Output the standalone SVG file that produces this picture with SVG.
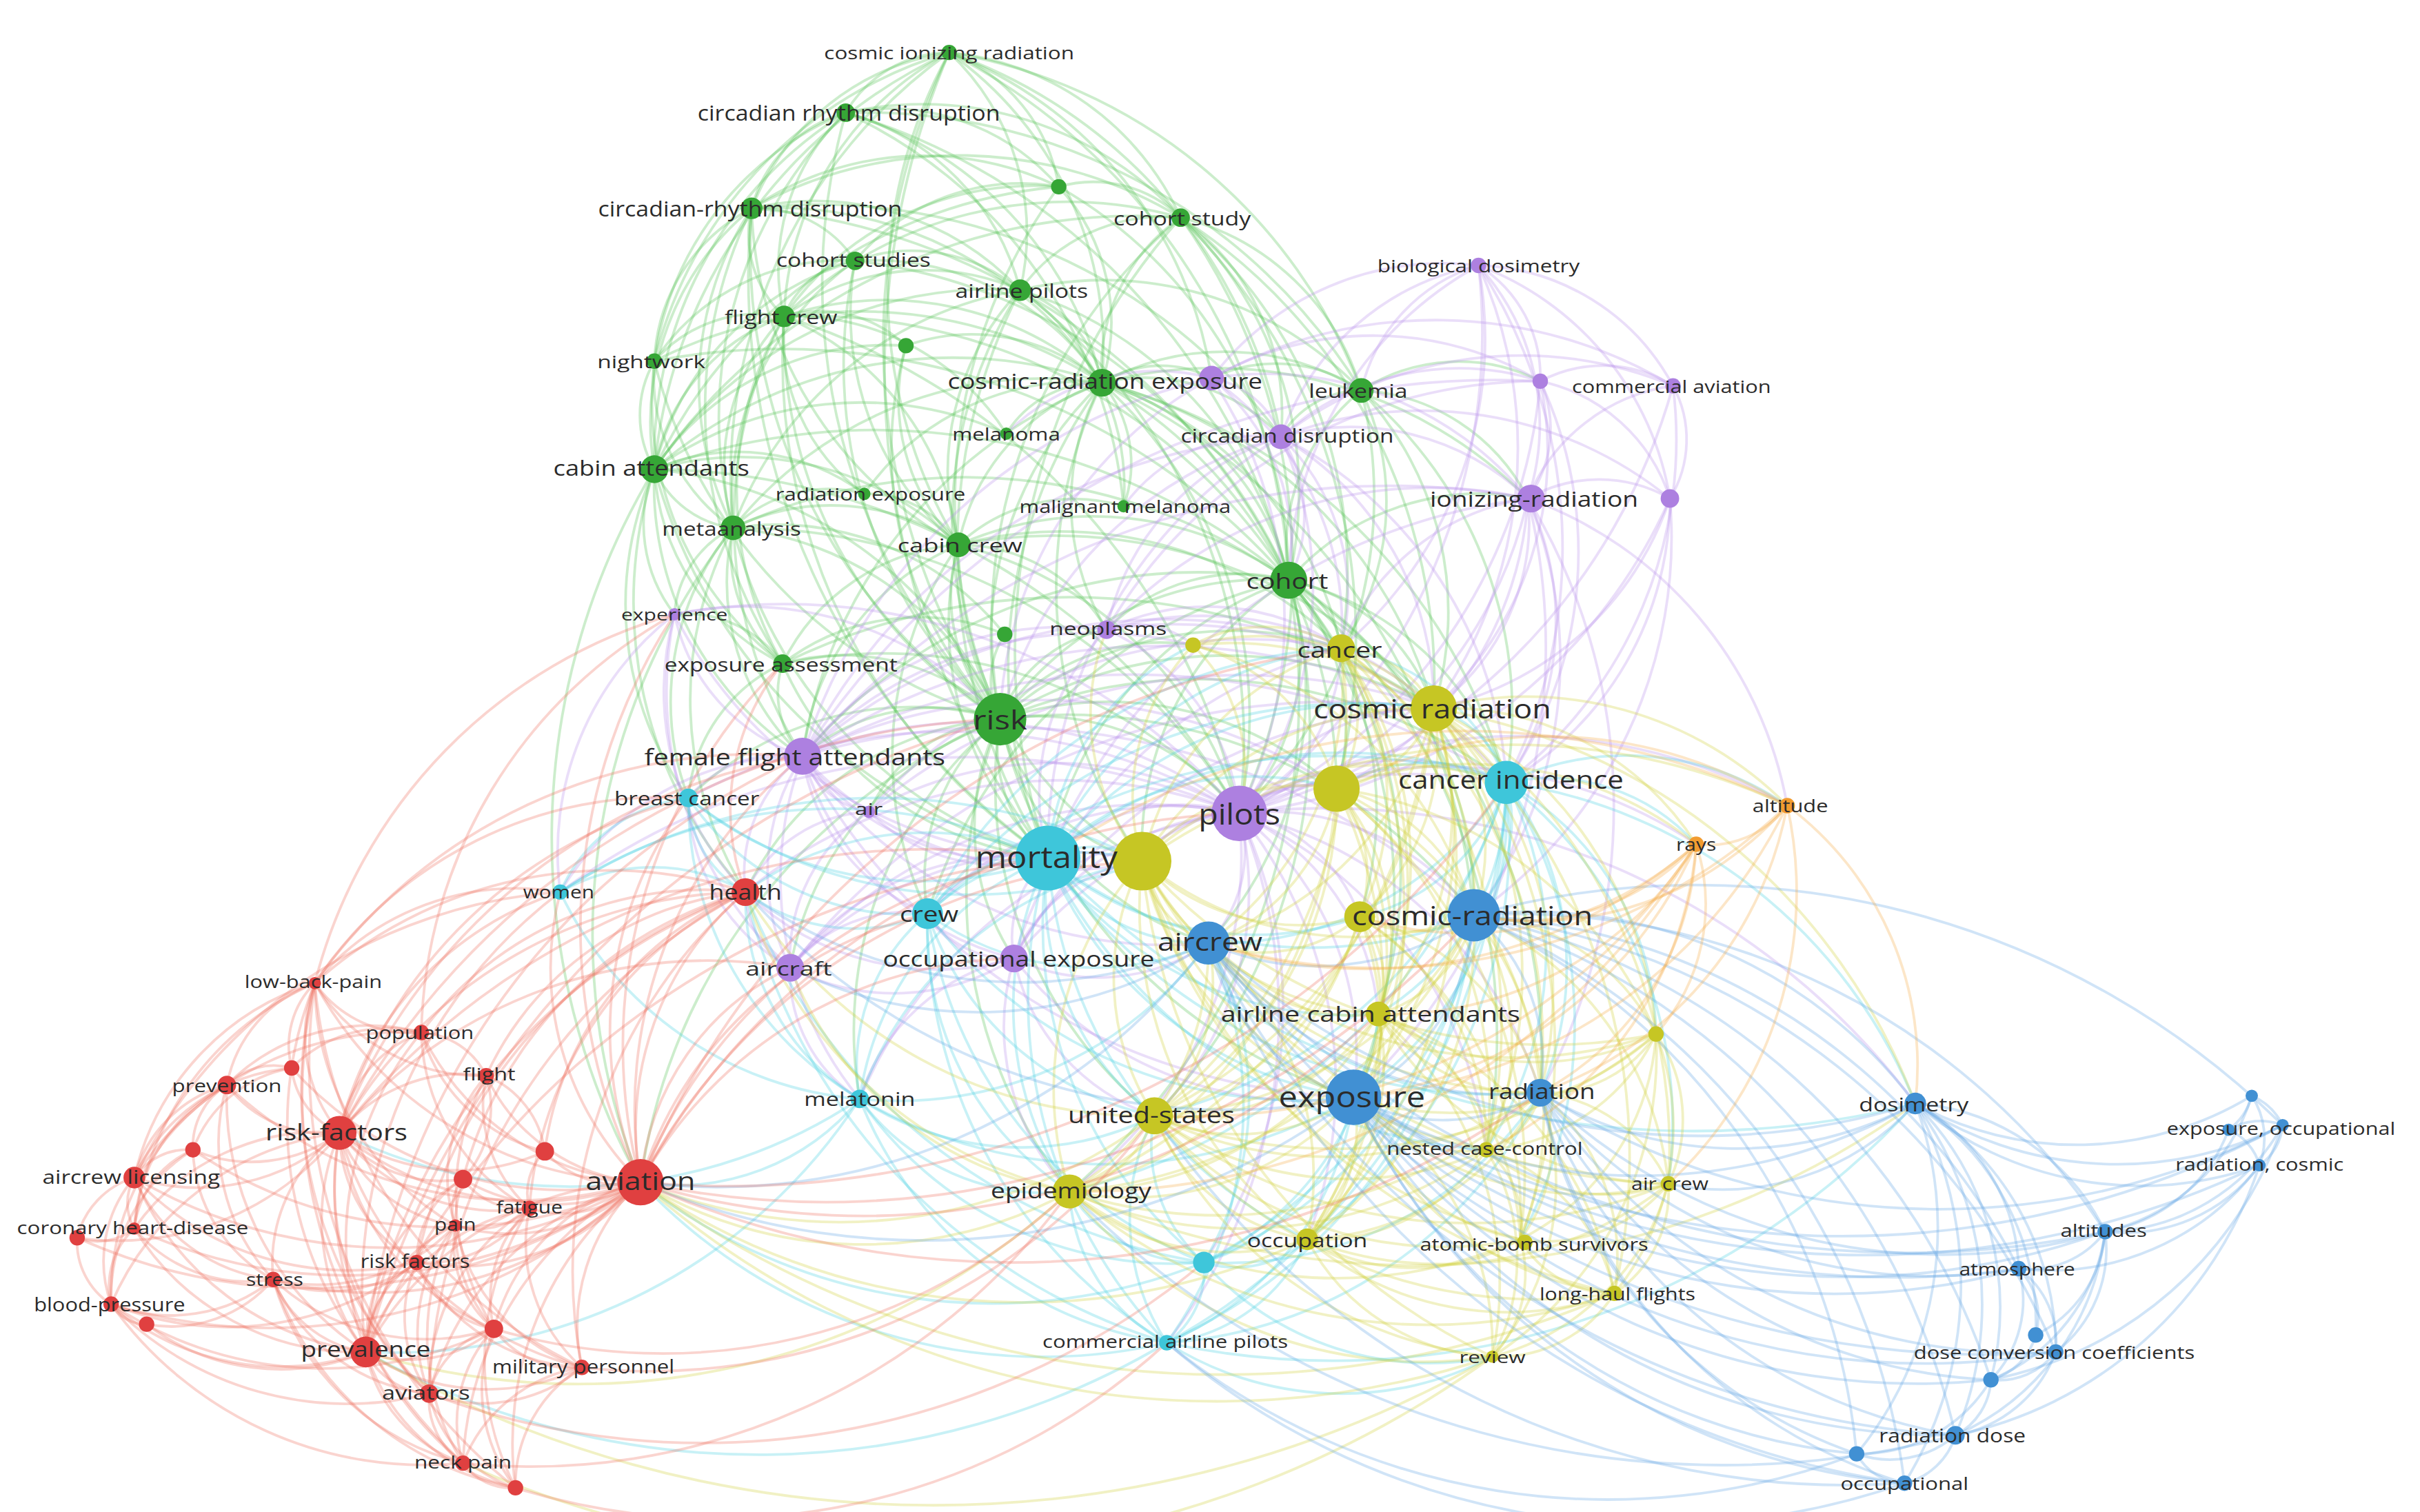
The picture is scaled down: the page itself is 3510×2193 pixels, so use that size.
<svg xmlns="http://www.w3.org/2000/svg" width="3510" height="2193" viewBox="0 0 3510 2193">
<style>
#edges path{fill:none;stroke-width:1.7;stroke-opacity:.3}
.eg path{stroke:#55c455}
.ep path{stroke:#b891ea}
.ey path{stroke:#d2d23a}
.ec path{stroke:#48d0e2}
.eb path{stroke:#62a6e4}
.er path{stroke:#f07060}
.eo path{stroke:#f6ab48}
.ng{fill:#36a636}.np{fill:#ad80e0}.ny{fill:#c6c624}.nc{fill:#3ec6da}.nb{fill:#4190d3}.nr{fill:#e04040}.no{fill:#f29c30}
text{font-family:'Open Sans','Noto Sans','Liberation Sans',sans-serif;fill:#2b2b2b;text-anchor:middle;dominant-baseline:central}
</style>
<rect width="3510" height="2193" fill="#ffffff"/>
<g transform="scale(2.2385)">
<g id="edges">
<g class="eg">
<path d="M615 34A184 184 0 0 1 765 141"/><path d="M615 34A236 236 0 0 1 714 248"/><path d="M615 34A407 407 0 0 1 835 376"/><path d="M615 34A345 345 0 0 1 882 253"/><path d="M487 135A163 163 0 0 1 615 34"/><path d="M548 73A78 78 0 0 1 615 34"/><path d="M508 205A202 202 0 0 1 615 34"/><path d="M424 234A277 277 0 0 1 615 34"/><path d="M424 304A331 331 0 0 1 615 34"/><path d="M648 466A433 433 0 0 1 615 34"/><path d="M615 34A112 112 0 0 1 686 121"/><path d="M615 34A161 161 0 0 1 661 188"/><path d="M475 342A338 338 0 0 1 615 34"/><path d="M621 353A319 319 0 0 1 615 34"/><path d="M615 34A329 329 0 0 1 830 283"/><path d="M615 34A271 271 0 0 1 785 245"/><path d="M679 556A526 526 0 0 1 615 34"/>
<path d="M548 73A227 227 0 0 1 765 141"/><path d="M548 73A241 241 0 0 1 714 248"/><path d="M548 73A417 417 0 0 1 835 376"/><path d="M487 135A87 87 0 0 1 548 73"/><path d="M508 205A138 138 0 0 1 548 73"/><path d="M424 304A262 262 0 0 1 548 73"/><path d="M648 466A405 405 0 0 1 548 73"/><path d="M548 73A161 161 0 0 1 661 188"/><path d="M548 73A146 146 0 0 1 686 121"/><path d="M424 234A203 203 0 0 1 548 73"/><path d="M475 342A279 279 0 0 1 548 73"/><path d="M548 73A379 379 0 0 1 882 253"/><path d="M548 73A312 312 0 0 1 728 328"/>
<path d="M487 135A278 278 0 0 1 765 141"/><path d="M487 135A182 182 0 0 1 661 188"/><path d="M487 135A254 254 0 0 1 714 248"/><path d="M487 135A423 423 0 0 1 835 376"/><path d="M508 205A73 73 0 0 1 487 135"/><path d="M424 304A180 180 0 0 1 487 135"/><path d="M424 234A117 117 0 0 1 487 135"/><path d="M475 342A207 207 0 0 1 487 135"/><path d="M648 466A368 368 0 0 1 487 135"/><path d="M507 430A296 296 0 0 1 487 135"/><path d="M487 135A75 75 0 0 1 554 169"/><path d="M487 135A200 200 0 0 1 686 121"/><path d="M487 135A374 374 0 0 1 830 283"/><path d="M621 353A256 256 0 0 1 487 135"/><path d="M679 556A463 463 0 0 1 487 135"/>
<path d="M686 121A81 81 0 0 1 765 141"/><path d="M686 121A295 295 0 0 1 835 376"/><path d="M554 169A140 140 0 0 1 686 121"/><path d="M508 205A197 197 0 0 1 686 121"/><path d="M686 121A130 130 0 0 1 714 248"/><path d="M648 466A347 347 0 0 1 686 121"/><path d="M424 304A320 320 0 0 1 686 121"/>
<path d="M765 141A245 245 0 0 1 835 376"/><path d="M765 141A162 162 0 0 1 882 253"/><path d="M765 141A156 156 0 0 1 830 283"/><path d="M661 188A114 114 0 0 1 765 141"/><path d="M714 248A119 119 0 0 1 765 141"/><path d="M648 466A345 345 0 0 1 765 141"/><path d="M508 205A265 265 0 0 1 765 141"/><path d="M424 304A378 378 0 0 1 765 141"/><path d="M765 141A298 298 0 0 1 869 420"/><path d="M765 141A358 358 0 0 1 929 459"/><path d="M765 141A388 388 0 0 1 803 527"/><path d="M679 556A424 424 0 0 1 765 141"/><path d="M765 141A384 384 0 0 1 866 511"/>
<path d="M661 188A80 80 0 0 1 714 248"/><path d="M661 188A256 256 0 0 1 835 376"/><path d="M508 205A154 154 0 0 1 661 188"/><path d="M554 169A109 109 0 0 1 661 188"/><path d="M424 304A264 264 0 0 1 661 188"/><path d="M648 466A278 278 0 0 1 661 188"/><path d="M661 188A367 367 0 0 1 803 527"/><path d="M661 188A230 230 0 0 1 882 253"/><path d="M475 342A241 241 0 0 1 661 188"/><path d="M621 353A170 170 0 0 1 661 188"/><path d="M679 556A368 368 0 0 1 661 188"/><path d="M661 188A155 155 0 0 1 728 328"/>
<path d="M554 169A178 178 0 0 1 714 248"/><path d="M554 169A349 349 0 0 1 835 376"/><path d="M508 205A58 58 0 0 1 554 169"/><path d="M424 304A187 187 0 0 1 554 169"/><path d="M648 466A311 311 0 0 1 554 169"/><path d="M424 234A145 145 0 0 1 554 169"/><path d="M475 342A190 190 0 0 1 554 169"/><path d="M621 353A196 196 0 0 1 554 169"/>
<path d="M508 205A210 210 0 0 1 714 248"/><path d="M508 205A369 369 0 0 1 835 376"/><path d="M424 234A89 89 0 0 1 508 205"/><path d="M424 304A130 130 0 0 1 508 205"/><path d="M475 342A141 141 0 0 1 508 205"/><path d="M648 466A296 296 0 0 1 508 205"/><path d="M508 205A186 186 0 0 1 621 353"/><path d="M507 430A225 225 0 0 1 508 205"/><path d="M679 556A390 390 0 0 1 508 205"/><path d="M508 205A81 81 0 0 1 587 224"/><path d="M508 205A163 163 0 0 1 652 281"/><path d="M560 320A126 126 0 0 1 508 205"/><path d="M520 490A285 285 0 0 1 508 205"/><path d="M508 205A437 437 0 0 1 803 527"/>
<path d="M587 224A129 129 0 0 1 714 248"/><path d="M621 353A133 133 0 0 1 587 224"/><path d="M648 466A250 250 0 0 1 587 224"/><path d="M424 304A182 182 0 0 1 587 224"/>
<path d="M424 234A290 290 0 0 1 714 248"/><path d="M424 304A70 70 0 0 1 424 234"/><path d="M475 342A119 119 0 0 1 424 234"/><path d="M648 466A322 322 0 0 1 424 234"/><path d="M424 234A435 435 0 0 1 835 376"/><path d="M507 430A213 213 0 0 1 424 234"/>
<path d="M714 248A176 176 0 0 1 835 376"/><path d="M714 248A168 168 0 0 1 882 253"/><path d="M714 248A121 121 0 0 1 830 283"/><path d="M714 248A71 71 0 0 1 785 245"/><path d="M714 248A231 231 0 0 1 869 420"/><path d="M714 248A301 301 0 0 1 929 459"/><path d="M714 248A293 293 0 0 1 803 527"/><path d="M714 248A304 304 0 0 1 866 511"/><path d="M648 466A228 228 0 0 1 714 248"/><path d="M679 556A310 310 0 0 1 714 248"/><path d="M424 304A295 295 0 0 1 714 248"/><path d="M475 342A257 257 0 0 1 714 248"/><path d="M621 353A140 140 0 0 1 714 248"/><path d="M714 248A368 368 0 0 1 976 507"/><path d="M714 248A286 286 0 0 1 990 323"/><path d="M740 558A311 311 0 0 1 714 248"/><path d="M652 281A70 70 0 0 1 714 248"/><path d="M560 320A170 170 0 0 1 714 248"/><path d="M714 248A81 81 0 0 1 728 328"/><path d="M717 408A160 160 0 0 1 714 248"/><path d="M520 490A310 310 0 0 1 714 248"/><path d="M714 248A421 421 0 0 1 955 593"/>
<path d="M424 304A417 417 0 0 1 835 376"/><path d="M475 342A64 64 0 0 1 424 304"/><path d="M507 430A151 151 0 0 1 424 304"/><path d="M424 304A276 276 0 0 1 648 466"/><path d="M437 398A95 95 0 0 1 424 304"/><path d="M520 490A209 209 0 0 1 424 304"/><path d="M679 556A358 358 0 0 1 424 304"/><path d="M424 304A203 203 0 0 1 621 353"/><path d="M424 304A137 137 0 0 1 560 320"/><path d="M424 304A440 440 0 0 1 803 527"/><path d="M446 517A214 214 0 0 1 424 304"/><path d="M483 578A280 280 0 0 1 424 304"/><path d="M415 766A462 462 0 0 1 424 304"/><path d="M424 304A229 229 0 0 1 652 281"/>
<path d="M475 342A362 362 0 0 1 835 376"/><path d="M507 430A94 94 0 0 1 475 342"/><path d="M475 342A213 213 0 0 1 648 466"/><path d="M475 342A146 146 0 0 1 621 353"/><path d="M437 398A68 68 0 0 1 475 342"/><path d="M520 490A155 155 0 0 1 475 342"/><path d="M679 556A296 296 0 0 1 475 342"/><path d="M446 517A177 177 0 0 1 475 342"/><path d="M475 342A377 377 0 0 1 803 527"/><path d="M475 342A88 88 0 0 1 560 320"/><path d="M475 342A189 189 0 0 1 651 411"/><path d="M483 578A236 236 0 0 1 475 342"/><path d="M415 766A428 428 0 0 1 475 342"/>
<path d="M621 353A215 215 0 0 1 835 376"/><path d="M648 466A116 116 0 0 1 621 353"/><path d="M621 353A110 110 0 0 1 728 328"/><path d="M621 353A257 257 0 0 1 869 420"/><path d="M621 353A252 252 0 0 1 803 527"/><path d="M679 556A211 211 0 0 1 621 353"/><path d="M621 353A111 111 0 0 1 717 408"/><path d="M507 430A138 138 0 0 1 621 353"/><path d="M520 490A170 170 0 0 1 621 353"/><path d="M621 353A326 326 0 0 1 929 459"/><path d="M740 558A237 237 0 0 1 621 353"/><path d="M601 592A240 240 0 0 1 621 353"/><path d="M560 320A69 69 0 0 1 621 353"/>
<path d="M648 466A208 208 0 0 1 835 376"/><path d="M835 376A56 56 0 0 1 869 420"/><path d="M835 376A125 125 0 0 1 929 459"/><path d="M835 376A192 192 0 0 1 976 507"/><path d="M835 376A154 154 0 0 1 803 527"/><path d="M835 376A139 139 0 0 1 866 511"/><path d="M679 556A238 238 0 0 1 835 376"/><path d="M740 558A205 205 0 0 1 835 376"/><path d="M835 376A248 248 0 0 1 955 593"/><path d="M835 376A287 287 0 0 1 893 657"/><path d="M835 376A338 338 0 0 1 877 711"/><path d="M835 376A241 241 0 0 1 783 611"/><path d="M835 376A164 164 0 0 1 990 323"/><path d="M835 376A132 132 0 0 1 882 253"/><path d="M835 376A370 370 0 0 1 998 708"/><path d="M520 490A335 335 0 0 1 835 376"/><path d="M601 592A318 318 0 0 1 835 376"/><path d="M717 408A122 122 0 0 1 835 376"/><path d="M835 376A223 223 0 0 1 881 594"/><path d="M835 376A358 358 0 0 1 748 723"/><path d="M835 376A421 421 0 0 1 693 772"/><path d="M835 376A391 391 0 0 1 963 745"/>
<path d="M648 466A226 226 0 0 1 869 420"/><path d="M648 466A281 281 0 0 1 929 459"/><path d="M648 466A167 167 0 0 1 803 527"/><path d="M648 466A331 331 0 0 1 976 507"/><path d="M648 466A223 223 0 0 1 866 511"/><path d="M740 558A130 130 0 0 1 648 466"/><path d="M679 556A95 95 0 0 1 648 466"/><path d="M520 490A130 130 0 0 1 648 466"/><path d="M601 592A134 134 0 0 1 648 466"/><path d="M563 526A104 104 0 0 1 648 466"/><path d="M446 517A208 208 0 0 1 648 466"/><path d="M483 578A199 199 0 0 1 648 466"/><path d="M415 766A380 380 0 0 1 648 466"/><path d="M512 627A211 211 0 0 1 648 466"/><path d="M657 621A155 155 0 0 1 648 466"/><path d="M648 466A90 90 0 0 1 717 408"/><path d="M648 466A134 134 0 0 1 773 418"/><path d="M648 466A332 332 0 0 1 955 593"/><path d="M783 611A198 198 0 0 1 648 466"/><path d="M877 711A335 335 0 0 1 648 466"/><path d="M748 723A276 276 0 0 1 648 466"/><path d="M693 772A309 309 0 0 1 648 466"/><path d="M648 466A55 55 0 0 1 651 411"/><path d="M507 430A146 146 0 0 1 648 466"/><path d="M557 712A262 262 0 0 1 648 466"/>
<path d="M679 556A213 213 0 0 1 507 430"/><path d="M507 430A311 311 0 0 1 803 527"/><path d="M507 430A145 145 0 0 1 651 411"/><path d="M520 490A61 61 0 0 1 507 430"/><path d="M437 398A77 77 0 0 1 507 430"/><path d="M507 430A423 423 0 0 1 929 459"/><path d="M446 517A106 106 0 0 1 507 430"/>
<path d="M882 253A129 129 0 0 1 990 323"/><path d="M882 253A116 116 0 0 1 998 247"/><path d="M882 253A211 211 0 0 1 929 459"/><path d="M882 253A271 271 0 0 1 976 507"/><path d="M830 283A60 60 0 0 1 882 253"/><path d="M882 253A285 285 0 0 1 803 527"/><path d="M785 245A97 97 0 0 1 882 253"/><path d="M882 253A168 168 0 0 1 869 420"/>
</g>
<g class="ep">
<path d="M882 253A111 111 0 0 1 958 172"/><path d="M958 172A85 85 0 0 1 998 247"/><path d="M958 172A148 148 0 0 1 1084 250"/><path d="M958 172A154 154 0 0 1 990 323"/><path d="M958 172A195 195 0 0 1 1082 323"/><path d="M830 283A169 169 0 0 1 958 172"/><path d="M785 245A188 188 0 0 1 958 172"/><path d="M958 172A288 288 0 0 1 929 459"/><path d="M958 172A387 387 0 0 1 803 527"/><path d="M958 172A335 335 0 0 1 976 507"/><path d="M835 376A238 238 0 0 1 958 172"/><path d="M958 172A263 263 0 0 1 869 420"/>
<path d="M998 247A86 86 0 0 1 1084 250"/><path d="M998 247A76 76 0 0 1 990 323"/><path d="M998 247A113 113 0 0 1 1082 323"/><path d="M830 283A172 172 0 0 1 998 247"/><path d="M785 245A213 213 0 0 1 998 247"/><path d="M998 247A341 341 0 0 1 803 527"/><path d="M998 247A261 261 0 0 1 976 507"/><path d="M998 247A223 223 0 0 1 929 459"/><path d="M717 408A324 324 0 0 1 998 247"/><path d="M520 490A536 536 0 0 1 998 247"/>
<path d="M1084 250A73 73 0 0 1 1082 323"/><path d="M990 323A119 119 0 0 1 1084 250"/><path d="M1084 250A279 279 0 0 1 976 507"/><path d="M1084 250A395 395 0 0 1 803 527"/><path d="M830 283A256 256 0 0 1 1084 250"/><path d="M785 245A299 299 0 0 1 1084 250"/>
<path d="M990 323A92 92 0 0 1 1082 323"/><path d="M1082 323A212 212 0 0 1 976 507"/><path d="M1082 323A346 346 0 0 1 803 527"/><path d="M1082 323A205 205 0 0 1 929 459"/><path d="M830 283A255 255 0 0 1 1082 323"/><path d="M1082 323A298 298 0 0 1 955 593"/>
<path d="M830 283A165 165 0 0 1 990 323"/><path d="M990 323A277 277 0 0 1 803 527"/><path d="M990 323A185 185 0 0 1 976 507"/><path d="M990 323A149 149 0 0 1 929 459"/><path d="M990 323A225 225 0 0 1 866 511"/><path d="M990 323A272 272 0 0 1 955 593"/><path d="M990 323A385 385 0 0 1 998 708"/><path d="M869 420A155 155 0 0 1 990 323"/><path d="M785 245A219 219 0 0 1 990 323"/><path d="M717 408A286 286 0 0 1 990 323"/><path d="M990 323A404 404 0 0 1 877 711"/><path d="M679 556A389 389 0 0 1 990 323"/><path d="M990 323A260 260 0 0 1 1158 522"/><path d="M520 490A499 499 0 0 1 990 323"/>
<path d="M830 283A245 245 0 0 1 803 527"/><path d="M830 283A142 142 0 0 1 869 420"/><path d="M830 283A202 202 0 0 1 929 459"/><path d="M785 245A59 59 0 0 1 830 283"/><path d="M728 328A111 111 0 0 1 830 283"/><path d="M648 466A258 258 0 0 1 830 283"/><path d="M717 408A168 168 0 0 1 830 283"/><path d="M520 490A373 373 0 0 1 830 283"/><path d="M679 556A312 312 0 0 1 830 283"/><path d="M830 283A267 267 0 0 1 976 507"/><path d="M830 283A93 93 0 0 1 835 376"/>
<path d="M785 245A283 283 0 0 1 803 527"/><path d="M785 245A194 194 0 0 1 869 420"/><path d="M785 245A140 140 0 0 1 835 376"/><path d="M652 281A138 138 0 0 1 785 245"/><path d="M648 466A260 260 0 0 1 785 245"/><path d="M520 490A361 361 0 0 1 785 245"/>
<path d="M520 490A124 124 0 0 1 437 398"/><path d="M437 398A222 222 0 0 1 648 466"/><path d="M512 627A241 241 0 0 1 437 398"/><path d="M483 578A186 186 0 0 1 437 398"/><path d="M363 578A195 195 0 0 1 437 398"/><path d="M437 398A388 388 0 0 1 803 527"/><path d="M679 556A289 289 0 0 1 437 398"/>
<path d="M717 408A147 147 0 0 1 803 527"/><path d="M717 408A152 152 0 0 1 869 420"/><path d="M717 408A218 218 0 0 1 929 459"/><path d="M679 556A153 153 0 0 1 717 408"/><path d="M717 408A57 57 0 0 1 773 418"/><path d="M520 490A213 213 0 0 1 717 408"/><path d="M717 408A277 277 0 0 1 976 507"/>
<path d="M520 490A285 285 0 0 1 803 527"/><path d="M520 490A356 356 0 0 1 869 420"/><path d="M520 490A410 410 0 0 1 929 459"/><path d="M520 490A456 456 0 0 1 976 507"/><path d="M520 490A347 347 0 0 1 866 511"/><path d="M679 556A172 172 0 0 1 520 490"/><path d="M446 517A79 79 0 0 1 520 490"/><path d="M563 526A56 56 0 0 1 520 490"/><path d="M483 578A95 95 0 0 1 520 490"/><path d="M512 627A137 137 0 0 1 520 490"/><path d="M363 578A180 180 0 0 1 520 490"/><path d="M657 621A190 190 0 0 1 520 490"/><path d="M601 592A130 130 0 0 1 520 490"/><path d="M520 490A263 263 0 0 1 773 418"/><path d="M740 558A230 230 0 0 1 520 490"/><path d="M557 712A225 225 0 0 1 520 490"/><path d="M520 490A447 447 0 0 1 955 593"/><path d="M783 611A289 289 0 0 1 520 490"/><path d="M877 711A420 420 0 0 1 520 490"/>
<path d="M563 526A240 240 0 0 1 803 527"/><path d="M679 556A120 120 0 0 1 563 526"/><path d="M483 578A95 95 0 0 1 563 526"/><path d="M512 627A113 113 0 0 1 563 526"/><path d="M563 526A372 372 0 0 1 929 459"/><path d="M563 526A324 324 0 0 1 869 420"/>
<path d="M803 527A174 174 0 0 1 976 507"/><path d="M869 420A126 126 0 0 1 803 527"/><path d="M803 527A143 143 0 0 1 929 459"/><path d="M803 527A65 65 0 0 1 866 511"/><path d="M740 558A70 70 0 0 1 803 527"/><path d="M679 556A127 127 0 0 1 803 527"/><path d="M803 527A166 166 0 0 1 955 593"/><path d="M803 527A158 158 0 0 1 893 657"/><path d="M803 527A198 198 0 0 1 877 711"/><path d="M803 527A266 266 0 0 1 998 708"/><path d="M803 527A204 204 0 0 1 748 723"/><path d="M803 527A86 86 0 0 1 783 611"/><path d="M803 527A269 269 0 0 1 693 772"/><path d="M803 527A103 103 0 0 1 881 594"/><path d="M803 527A279 279 0 0 1 847 803"/><path d="M601 592A212 212 0 0 1 803 527"/><path d="M512 627A308 308 0 0 1 803 527"/><path d="M657 621A174 174 0 0 1 803 527"/><path d="M483 578A324 324 0 0 1 803 527"/><path d="M803 527A355 355 0 0 1 1158 522"/><path d="M803 527A297 297 0 0 1 1099 547"/><path d="M803 527A270 270 0 0 1 963 745"/><path d="M803 527A477 477 0 0 1 1241 715"/><path d="M803 527A292 292 0 0 1 780 818"/><path d="M803 527A346 346 0 0 1 756 870"/><path d="M446 517A357 357 0 0 1 803 527"/><path d="M557 712A308 308 0 0 1 803 527"/><path d="M363 578A443 443 0 0 1 803 527"/>
<path d="M512 627A181 181 0 0 1 679 556"/><path d="M512 627A57 57 0 0 1 483 578"/><path d="M512 627A96 96 0 0 1 601 592"/><path d="M657 621A145 145 0 0 1 512 627"/><path d="M512 627A450 450 0 0 1 929 459"/><path d="M512 627A238 238 0 0 1 740 558"/><path d="M557 712A96 96 0 0 1 512 627"/><path d="M512 627A128 128 0 0 1 446 517"/>
<path d="M657 621A69 69 0 0 1 679 556"/><path d="M657 621A63 63 0 0 1 601 592"/><path d="M657 621A104 104 0 0 1 740 558"/><path d="M657 621A317 317 0 0 1 929 459"/><path d="M657 621A339 339 0 0 1 976 507"/><path d="M748 723A137 137 0 0 1 657 621"/><path d="M693 772A155 155 0 0 1 657 621"/><path d="M783 611A126 126 0 0 1 657 621"/><path d="M877 711A238 238 0 0 1 657 621"/><path d="M657 621A179 179 0 0 1 483 578"/><path d="M657 621A292 292 0 0 1 869 420"/><path d="M557 712A135 135 0 0 1 657 621"/>
</g>
<g class="ec">
<path d="M679 556A61 61 0 0 1 740 558"/><path d="M679 556A234 234 0 0 1 869 420"/><path d="M679 556A268 268 0 0 1 929 459"/><path d="M679 556A301 301 0 0 1 976 507"/><path d="M679 556A192 192 0 0 1 866 511"/><path d="M955 593A278 278 0 0 1 679 556"/><path d="M783 611A118 118 0 0 1 679 556"/><path d="M877 711A251 251 0 0 1 679 556"/><path d="M748 723A181 181 0 0 1 679 556"/><path d="M693 772A216 216 0 0 1 679 556"/><path d="M601 592A86 86 0 0 1 679 556"/><path d="M679 556A236 236 0 0 1 446 517"/><path d="M363 578A317 317 0 0 1 679 556"/><path d="M483 578A197 197 0 0 1 679 556"/><path d="M557 712A198 198 0 0 1 679 556"/><path d="M780 818A281 281 0 0 1 679 556"/><path d="M756 870A323 323 0 0 1 679 556"/><path d="M679 556A167 167 0 0 1 773 418"/><path d="M893 657A237 237 0 0 1 679 556"/><path d="M998 708A353 353 0 0 1 679 556"/><path d="M847 803A299 299 0 0 1 679 556"/><path d="M963 745A341 341 0 0 1 679 556"/><path d="M881 594A205 205 0 0 1 679 556"/><path d="M1241 715A584 584 0 0 1 679 556"/>
<path d="M929 459A67 67 0 0 1 976 507"/><path d="M869 420A138 138 0 0 1 976 507"/><path d="M866 511A110 110 0 0 1 976 507"/><path d="M976 507A89 89 0 0 1 955 593"/><path d="M976 507A227 227 0 0 1 877 711"/><path d="M976 507A202 202 0 0 1 998 708"/><path d="M976 507A171 171 0 0 1 893 657"/><path d="M976 507A183 183 0 0 1 1158 522"/><path d="M976 507A129 129 0 0 1 1099 547"/><path d="M976 507A219 219 0 0 1 783 611"/><path d="M976 507A314 314 0 0 1 748 723"/><path d="M976 507A388 388 0 0 1 693 772"/><path d="M976 507A323 323 0 0 1 847 803"/><path d="M976 507A424 424 0 0 1 756 870"/><path d="M976 507A368 368 0 0 1 780 818"/><path d="M976 507A337 337 0 0 1 1241 715"/><path d="M976 507A238 238 0 0 1 963 745"/><path d="M976 507A190 190 0 0 1 1073 670"/><path d="M976 507A280 280 0 0 1 1081 767"/><path d="M976 507A129 129 0 0 1 881 594"/><path d="M601 592A385 385 0 0 1 976 507"/><path d="M976 507A296 296 0 0 1 985 803"/>
<path d="M601 592A143 143 0 0 1 740 558"/><path d="M601 592A354 354 0 0 1 929 459"/><path d="M601 592A318 318 0 0 1 869 420"/><path d="M783 611A183 183 0 0 1 601 592"/><path d="M877 711A301 301 0 0 1 601 592"/><path d="M748 723A197 197 0 0 1 601 592"/><path d="M693 772A202 202 0 0 1 601 592"/><path d="M601 592A172 172 0 0 1 446 517"/><path d="M601 592A119 119 0 0 1 483 578"/><path d="M557 712A128 128 0 0 1 601 592"/><path d="M780 818A288 288 0 0 1 601 592"/><path d="M756 870A318 318 0 0 1 601 592"/>
<path d="M483 578A71 71 0 0 1 446 517"/><path d="M363 578A103 103 0 0 1 446 517"/><path d="M557 712A224 224 0 0 1 446 517"/><path d="M740 558A297 297 0 0 1 446 517"/>
<path d="M363 578A120 120 0 0 1 483 578"/><path d="M557 712A236 236 0 0 1 363 578"/><path d="M363 578A378 378 0 0 1 740 558"/>
<path d="M748 723A191 191 0 0 1 557 712"/><path d="M693 772A149 149 0 0 1 557 712"/><path d="M783 611A248 248 0 0 1 557 712"/><path d="M877 711A320 320 0 0 1 557 712"/><path d="M756 870A254 254 0 0 1 557 712"/><path d="M780 818A247 247 0 0 1 557 712"/><path d="M557 712A338 338 0 0 1 220 734"/><path d="M557 712A360 360 0 0 1 237 876"/><path d="M557 712A153 153 0 0 1 483 578"/><path d="M557 712A239 239 0 0 1 740 558"/><path d="M557 712A152 152 0 0 1 415 766"/>
<path d="M780 818A57 57 0 0 1 756 870"/><path d="M780 818A98 98 0 0 1 693 772"/><path d="M780 818A100 100 0 0 1 748 723"/><path d="M877 711A144 144 0 0 1 780 818"/><path d="M783 611A207 207 0 0 1 780 818"/><path d="M847 803A69 69 0 0 1 780 818"/><path d="M998 708A244 244 0 0 1 780 818"/><path d="M955 593A285 285 0 0 1 780 818"/><path d="M893 657A197 197 0 0 1 780 818"/><path d="M780 818A369 369 0 0 1 415 766"/><path d="M780 818A382 382 0 0 1 483 578"/><path d="M967 879A197 197 0 0 1 780 818"/>
<path d="M756 870A117 117 0 0 1 693 772"/><path d="M756 870A147 147 0 0 1 748 723"/><path d="M877 711A200 200 0 0 1 756 870"/><path d="M783 611A260 260 0 0 1 756 870"/><path d="M847 803A113 113 0 0 1 756 870"/><path d="M998 708A291 291 0 0 1 756 870"/><path d="M955 593A341 341 0 0 1 756 870"/><path d="M756 870A357 357 0 0 1 415 766"/><path d="M756 870A400 400 0 0 1 483 578"/><path d="M967 879A211 211 0 0 1 756 870"/><path d="M756 870A519 519 0 0 1 237 876"/><path d="M1241 715A509 509 0 0 1 756 870"/>
</g>
<g class="ey">
<path d="M740 558A213 213 0 0 1 929 459"/><path d="M740 558A189 189 0 0 1 869 420"/><path d="M740 558A134 134 0 0 1 866 511"/><path d="M740 558A241 241 0 0 1 976 507"/><path d="M955 593A218 218 0 0 1 740 558"/><path d="M881 594A146 146 0 0 1 740 558"/><path d="M893 657A182 182 0 0 1 740 558"/><path d="M748 723A165 165 0 0 1 740 558"/><path d="M693 772A219 219 0 0 1 740 558"/><path d="M847 803A267 267 0 0 1 740 558"/><path d="M877 711A205 205 0 0 1 740 558"/><path d="M783 611A68 68 0 0 1 740 558"/><path d="M963 745A291 291 0 0 1 740 558"/><path d="M998 708A298 298 0 0 1 740 558"/><path d="M985 803A346 346 0 0 1 740 558"/><path d="M1046 838A415 415 0 0 1 740 558"/><path d="M967 879A393 393 0 0 1 740 558"/><path d="M1073 670A351 351 0 0 1 740 558"/><path d="M1081 767A400 400 0 0 1 740 558"/><path d="M740 558A144 144 0 0 1 773 418"/><path d="M740 558A152 152 0 0 1 717 408"/><path d="M740 558A420 420 0 0 1 1158 522"/>
<path d="M869 420A72 72 0 0 1 929 459"/><path d="M929 459A82 82 0 0 1 866 511"/><path d="M929 459A137 137 0 0 1 955 593"/><path d="M929 459A201 201 0 0 1 893 657"/><path d="M929 459A257 257 0 0 1 877 711"/><path d="M929 459A258 258 0 0 1 998 708"/><path d="M929 459A143 143 0 0 1 881 594"/><path d="M929 459A255 255 0 0 1 1073 670"/><path d="M929 459A238 238 0 0 1 1158 522"/><path d="M929 459A191 191 0 0 1 1099 547"/><path d="M929 459A288 288 0 0 1 963 745"/><path d="M929 459A320 320 0 0 1 748 723"/><path d="M929 459A392 392 0 0 1 693 772"/><path d="M929 459A354 354 0 0 1 847 803"/><path d="M929 459A349 349 0 0 1 985 803"/><path d="M929 459A343 343 0 0 1 1081 767"/><path d="M929 459A397 397 0 0 1 1046 838"/><path d="M929 459A404 404 0 0 1 1241 715"/><path d="M929 459A211 211 0 0 1 783 611"/><path d="M773 418A161 161 0 0 1 929 459"/>
<path d="M869 420A91 91 0 0 1 866 511"/><path d="M869 420A193 193 0 0 1 955 593"/><path d="M869 420A238 238 0 0 1 893 657"/><path d="M869 420A291 291 0 0 1 877 711"/><path d="M869 420A326 326 0 0 1 748 723"/><path d="M869 420A174 174 0 0 1 881 594"/><path d="M869 420A316 316 0 0 1 998 708"/><path d="M773 418A96 96 0 0 1 869 420"/><path d="M869 420A338 338 0 0 1 963 745"/><path d="M869 420A384 384 0 0 1 847 803"/><path d="M869 420A209 209 0 0 1 783 611"/>
<path d="M866 511A121 121 0 0 1 955 593"/><path d="M866 511A148 148 0 0 1 893 657"/><path d="M866 511A200 200 0 0 1 877 711"/><path d="M866 511A237 237 0 0 1 998 708"/><path d="M866 511A85 85 0 0 1 881 594"/><path d="M866 511A243 243 0 0 1 748 723"/><path d="M866 511A313 313 0 0 1 693 772"/><path d="M866 511A293 293 0 0 1 847 803"/><path d="M866 511A253 253 0 0 1 963 745"/><path d="M866 511A130 130 0 0 1 783 611"/><path d="M866 511A261 261 0 0 1 1073 670"/><path d="M866 511A315 315 0 0 1 985 803"/><path d="M866 511A236 236 0 0 1 1099 547"/><path d="M773 418A132 132 0 0 1 866 511"/>
<path d="M881 594A64 64 0 0 1 893 657"/><path d="M881 594A117 117 0 0 1 877 711"/><path d="M881 594A163 163 0 0 1 998 708"/><path d="M881 594A185 185 0 0 1 748 723"/><path d="M881 594A259 259 0 0 1 693 772"/><path d="M881 594A212 212 0 0 1 847 803"/><path d="M881 594A172 172 0 0 1 963 745"/><path d="M955 593A74 74 0 0 1 881 594"/><path d="M881 594A99 99 0 0 1 783 611"/><path d="M881 594A233 233 0 0 1 985 803"/>
<path d="M893 657A56 56 0 0 1 877 711"/><path d="M998 708A117 117 0 0 1 893 657"/><path d="M893 657A159 159 0 0 1 748 723"/><path d="M893 657A231 231 0 0 1 693 772"/><path d="M893 657A153 153 0 0 1 847 803"/><path d="M893 657A112 112 0 0 1 963 745"/><path d="M893 657A119 119 0 0 1 783 611"/><path d="M893 657A173 173 0 0 1 985 803"/><path d="M893 657A237 237 0 0 1 1046 838"/><path d="M893 657A234 234 0 0 1 967 879"/><path d="M1073 670A180 180 0 0 1 893 657"/><path d="M1081 767A218 218 0 0 1 893 657"/><path d="M955 593A89 89 0 0 1 893 657"/>
<path d="M748 723A74 74 0 0 1 693 772"/><path d="M877 711A129 129 0 0 1 748 723"/><path d="M847 803A127 127 0 0 1 748 723"/><path d="M963 745A216 216 0 0 1 748 723"/><path d="M998 708A250 250 0 0 1 748 723"/><path d="M985 803A250 250 0 0 1 748 723"/><path d="M1046 838A319 319 0 0 1 748 723"/><path d="M967 879A269 269 0 0 1 748 723"/><path d="M955 593A244 244 0 0 1 748 723"/><path d="M783 611A117 117 0 0 1 748 723"/><path d="M1073 670A329 329 0 0 1 748 723"/><path d="M1081 767A336 336 0 0 1 748 723"/><path d="M748 723A336 336 0 0 1 415 766"/><path d="M748 723A302 302 0 0 1 483 578"/>
<path d="M877 711A194 194 0 0 1 693 772"/><path d="M847 803A157 157 0 0 1 693 772"/><path d="M963 745A271 271 0 0 1 693 772"/><path d="M998 708A312 312 0 0 1 693 772"/><path d="M985 803A294 294 0 0 1 693 772"/><path d="M1046 838A359 359 0 0 1 693 772"/><path d="M967 879A294 294 0 0 1 693 772"/><path d="M955 593A317 317 0 0 1 693 772"/><path d="M783 611A184 184 0 0 1 693 772"/><path d="M693 772A278 278 0 0 1 415 766"/><path d="M693 772A468 468 0 0 1 237 876"/><path d="M693 772A286 286 0 0 1 483 578"/><path d="M693 772A232 232 0 0 1 512 627"/><path d="M1241 715A551 551 0 0 1 693 772"/>
<path d="M877 711A97 97 0 0 1 847 803"/><path d="M998 708A178 178 0 0 1 847 803"/><path d="M963 745A130 130 0 0 1 847 803"/><path d="M985 803A138 138 0 0 1 847 803"/><path d="M1046 838A202 202 0 0 1 847 803"/><path d="M967 879A142 142 0 0 1 847 803"/><path d="M1081 767A237 237 0 0 1 847 803"/><path d="M955 593A236 236 0 0 1 847 803"/><path d="M783 611A202 202 0 0 1 847 803"/><path d="M847 803A434 434 0 0 1 415 766"/>
<path d="M998 708A51 51 0 0 1 963 745"/><path d="M963 745A92 92 0 0 1 877 711"/><path d="M963 745A62 62 0 0 1 985 803"/><path d="M1081 767A120 120 0 0 1 963 745"/><path d="M963 745A125 125 0 0 1 1046 838"/><path d="M963 745A134 134 0 0 1 967 879"/><path d="M955 593A152 152 0 0 1 963 745"/><path d="M1073 670A133 133 0 0 1 963 745"/>
<path d="M1081 767A103 103 0 0 1 985 803"/><path d="M1046 838A70 70 0 0 1 985 803"/><path d="M985 803A78 78 0 0 1 967 879"/><path d="M998 708A96 96 0 0 1 985 803"/><path d="M985 803A142 142 0 0 1 877 711"/><path d="M1073 670A160 160 0 0 1 985 803"/><path d="M955 593A212 212 0 0 1 985 803"/>
<path d="M1081 767A79 79 0 0 1 1046 838"/><path d="M1046 838A89 89 0 0 1 967 879"/><path d="M998 708A139 139 0 0 1 1046 838"/><path d="M1073 670A170 170 0 0 1 1046 838"/><path d="M1046 838A211 211 0 0 1 877 711"/><path d="M1046 838A635 635 0 0 1 415 766"/>
<path d="M1081 767A160 160 0 0 1 967 879"/><path d="M1073 670A234 234 0 0 1 967 879"/><path d="M998 708A174 174 0 0 1 967 879"/><path d="M967 879A563 563 0 0 1 415 766"/><path d="M967 879A730 730 0 0 1 237 876"/><path d="M967 879A671 671 0 0 1 300 948"/><path d="M877 711A191 191 0 0 1 967 879"/>
<path d="M1073 670A97 97 0 0 1 1081 767"/><path d="M1073 670A84 84 0 0 1 998 708"/><path d="M955 593A141 141 0 0 1 1073 670"/><path d="M1073 670A200 200 0 0 1 877 711"/><path d="M1073 670A296 296 0 0 1 783 611"/>
<path d="M998 708A102 102 0 0 1 1081 767"/><path d="M955 593A215 215 0 0 1 1081 767"/><path d="M1081 767A212 212 0 0 1 877 711"/>
<path d="M773 418A113 113 0 0 1 803 527"/><path d="M773 418A222 222 0 0 1 976 507"/><path d="M773 418A252 252 0 0 1 955 593"/>
</g>
<g class="eb">
<path d="M955 593A141 141 0 0 1 877 711"/><path d="M955 593A123 123 0 0 1 998 708"/><path d="M955 593A173 173 0 0 1 783 611"/><path d="M955 593A311 311 0 0 1 1241 715"/><path d="M955 593A457 457 0 0 1 1364 798"/><path d="M955 593A421 421 0 0 1 1308 822"/><path d="M955 593A471 471 0 0 1 1332 876"/><path d="M955 593A459 459 0 0 1 1267 930"/><path d="M955 593A462 462 0 0 1 1234 961"/><path d="M955 593A541 541 0 0 1 1479 729"/><path d="M955 593A428 428 0 0 1 1203 942"/><path d="M955 593A450 450 0 0 1 1290 894"/>
<path d="M877 711A137 137 0 0 1 783 611"/><path d="M998 708A236 236 0 0 1 783 611"/><path d="M1241 715A470 470 0 0 1 783 611"/><path d="M783 611A302 302 0 0 1 483 578"/><path d="M783 611A399 399 0 0 1 415 766"/><path d="M1234 961A571 571 0 0 1 783 611"/><path d="M1267 930A580 580 0 0 1 783 611"/><path d="M783 611A271 271 0 0 1 512 627"/><path d="M1364 798A610 610 0 0 1 783 611"/><path d="M1308 822A566 566 0 0 1 783 611"/>
<path d="M998 708A121 121 0 0 1 877 711"/><path d="M1241 715A364 364 0 0 1 877 711"/><path d="M1364 798A495 495 0 0 1 877 711"/><path d="M1308 822A445 445 0 0 1 877 711"/><path d="M1332 876A484 484 0 0 1 877 711"/><path d="M1267 930A447 447 0 0 1 877 711"/><path d="M1234 961A436 436 0 0 1 877 711"/><path d="M1203 942A400 400 0 0 1 877 711"/><path d="M1290 894A452 452 0 0 1 877 711"/><path d="M877 711A465 465 0 0 1 415 766"/><path d="M877 711A416 416 0 0 1 483 578"/><path d="M1479 729A602 602 0 0 1 877 711"/><path d="M1464 755A589 589 0 0 1 877 711"/>
<path d="M1241 715A243 243 0 0 1 998 708"/><path d="M1364 798A377 377 0 0 1 998 708"/><path d="M1308 822A330 330 0 0 1 998 708"/><path d="M1332 876A374 374 0 0 1 998 708"/><path d="M1267 930A349 349 0 0 1 998 708"/><path d="M1234 961A346 346 0 0 1 998 708"/><path d="M1203 942A311 311 0 0 1 998 708"/><path d="M1290 894A346 346 0 0 1 998 708"/><path d="M1479 729A481 481 0 0 1 998 708"/>
<path d="M1459 710A218 218 0 0 1 1241 715"/><path d="M1479 729A238 238 0 0 1 1241 715"/><path d="M1464 755A227 227 0 0 1 1241 715"/><path d="M1241 715A148 148 0 0 1 1364 798"/><path d="M1241 715A126 126 0 0 1 1308 822"/><path d="M1241 715A185 185 0 0 1 1332 876"/><path d="M1241 715A217 217 0 0 1 1267 930"/><path d="M1241 715A246 246 0 0 1 1234 961"/><path d="M1241 715A230 230 0 0 1 1203 942"/><path d="M1241 715A186 186 0 0 1 1290 894"/><path d="M1241 715A169 169 0 0 1 1319 865"/><path d="M1241 715A168 168 0 0 1 1081 767"/>
<path d="M1459 710A40 40 0 0 1 1479 729"/><path d="M1459 710A40 40 0 0 1 1444 732"/><path d="M1459 710A50 50 0 0 1 1464 755"/><path d="M1479 729A35 35 0 0 1 1464 755"/><path d="M1444 732A35 35 0 0 1 1464 755"/><path d="M1444 732A40 40 0 0 1 1479 729"/><path d="M1479 729A134 134 0 0 1 1364 798"/><path d="M1464 755A109 109 0 0 1 1364 798"/><path d="M1459 710A130 130 0 0 1 1364 798"/><path d="M1444 732A104 104 0 0 1 1364 798"/><path d="M1364 798A61 61 0 0 1 1308 822"/><path d="M1364 798A84 84 0 0 1 1332 876"/><path d="M1364 798A81 81 0 0 1 1319 865"/><path d="M1364 798A121 121 0 0 1 1290 894"/><path d="M1364 798A164 164 0 0 1 1267 930"/><path d="M1308 822A44 44 0 0 1 1319 865"/><path d="M1308 822A59 59 0 0 1 1332 876"/><path d="M1308 822A74 74 0 0 1 1290 894"/><path d="M1319 865A41 41 0 0 1 1290 894"/><path d="M1332 876A46 46 0 0 1 1290 894"/><path d="M1290 894A43 43 0 0 1 1267 930"/><path d="M1290 894A99 99 0 0 1 1203 942"/><path d="M1267 930A65 65 0 0 1 1203 942"/><path d="M1267 930A45 45 0 0 1 1234 961"/><path d="M1234 961A36 36 0 0 1 1203 942"/><path d="M1332 876A85 85 0 0 1 1267 930"/><path d="M1464 755A170 170 0 0 1 1308 822"/><path d="M1479 729A251 251 0 0 1 1290 894"/><path d="M1464 755A263 263 0 0 1 1267 930"/>
<path d="M1234 961A541 541 0 0 1 748 723"/><path d="M1267 930A595 595 0 0 1 693 772"/><path d="M1203 942A453 453 0 0 1 756 870"/><path d="M1234 961A487 487 0 0 1 756 870"/><path d="M1332 876A610 610 0 0 1 783 611"/>
</g>
<g class="er">
<path d="M204 637A334 334 0 0 1 437 398"/><path d="M273 669A317 317 0 0 1 437 398"/><path d="M415 766A369 369 0 0 1 437 398"/><path d="M204 637A349 349 0 0 1 520 490"/><path d="M220 734A387 387 0 0 1 520 490"/><path d="M237 876A479 479 0 0 1 520 490"/><path d="M415 766A295 295 0 0 1 520 490"/><path d="M415 766A456 456 0 0 1 803 527"/><path d="M220 734A311 311 0 0 1 512 627"/><path d="M415 766A170 170 0 0 1 512 627"/><path d="M415 766A282 282 0 0 1 657 621"/><path d="M415 766A337 337 0 0 1 679 556"/><path d="M220 734A492 492 0 0 1 679 556"/><path d="M237 876A546 546 0 0 1 679 556"/><path d="M415 766A255 255 0 0 1 601 592"/><path d="M415 766A251 251 0 0 1 446 517"/><path d="M220 734A313 313 0 0 1 446 517"/><path d="M204 637A270 270 0 0 1 446 517"/><path d="M415 766A195 195 0 0 1 363 578"/><path d="M204 637A170 170 0 0 1 363 578"/><path d="M220 734A212 212 0 0 1 363 578"/><path d="M237 876A324 324 0 0 1 363 578"/><path d="M87 763A332 332 0 0 1 363 578"/><path d="M220 734A505 505 0 0 1 648 466"/><path d="M237 876A580 580 0 0 1 648 466"/>
<path d="M415 766A200 200 0 0 1 483 578"/><path d="M415 766A247 247 0 0 1 204 637"/><path d="M415 766A172 172 0 0 1 273 669"/><path d="M415 766A121 121 0 0 1 315 697"/><path d="M415 766A275 275 0 0 1 147 703"/><path d="M415 766A198 198 0 0 1 220 734"/><path d="M415 766A65 65 0 0 1 353 746"/><path d="M415 766A115 115 0 0 1 300 764"/><path d="M415 766A328 328 0 0 1 87 763"/><path d="M415 766A74 74 0 0 1 343 783"/><path d="M415 766A123 123 0 0 1 295 794"/><path d="M415 766A329 329 0 0 1 87 796"/><path d="M415 766A154 154 0 0 1 270 818"/><path d="M415 766A246 246 0 0 1 177 829"/><path d="M415 766A352 352 0 0 1 72 845"/><path d="M415 766A290 290 0 0 1 125 745"/><path d="M415 766A238 238 0 0 1 189 692"/><path d="M237 876A209 209 0 0 1 415 766"/><path d="M320 861A134 134 0 0 1 415 766"/><path d="M377 886A126 126 0 0 1 415 766"/><path d="M278 903A194 194 0 0 1 415 766"/><path d="M300 948A215 215 0 0 1 415 766"/><path d="M334 964A214 214 0 0 1 415 766"/><path d="M415 766A348 348 0 0 1 507 430"/><path d="M415 766A367 367 0 0 1 50 802"/><path d="M415 766A386 386 0 0 1 740 558"/><path d="M415 766A571 571 0 0 1 869 420"/><path d="M976 507A618 618 0 0 1 415 766"/><path d="M955 593A567 567 0 0 1 415 766"/><path d="M893 657A490 490 0 0 1 415 766"/><path d="M998 708A586 586 0 0 1 415 766"/>
<path d="M756 870A432 432 0 0 1 334 964"/><path d="M693 772A431 431 0 0 1 300 948"/><path d="M748 723A405 405 0 0 1 377 886"/><path d="M780 818A509 509 0 0 1 278 903"/><path d="M693 772A383 383 0 0 1 320 861"/>
<path d="M220 734A306 306 0 0 1 483 578"/><path d="M220 734A98 98 0 0 1 204 637"/><path d="M220 734A84 84 0 0 1 273 669"/><path d="M220 734A52 52 0 0 1 189 692"/><path d="M220 734A79 79 0 0 1 147 703"/><path d="M220 734A136 136 0 0 1 87 763"/><path d="M220 734A102 102 0 0 1 315 697"/><path d="M353 746A134 134 0 0 1 220 734"/><path d="M300 764A85 85 0 0 1 220 734"/><path d="M343 783A132 132 0 0 1 220 734"/><path d="M295 794A96 96 0 0 1 220 734"/><path d="M270 818A98 98 0 0 1 220 734"/><path d="M177 829A104 104 0 0 1 220 734"/><path d="M237 876A143 143 0 0 1 220 734"/><path d="M72 845A185 185 0 0 1 220 734"/><path d="M87 796A147 147 0 0 1 220 734"/><path d="M220 734A96 96 0 0 1 125 745"/><path d="M377 886A218 218 0 0 1 220 734"/><path d="M278 903A179 179 0 0 1 220 734"/><path d="M320 861A162 162 0 0 1 220 734"/><path d="M300 948A228 228 0 0 1 220 734"/><path d="M220 734A183 183 0 0 1 50 802"/>
<path d="M278 903A49 49 0 0 1 237 876"/><path d="M300 948A96 96 0 0 1 237 876"/><path d="M377 886A140 140 0 0 1 237 876"/><path d="M320 861A84 84 0 0 1 237 876"/><path d="M237 876A76 76 0 0 1 177 829"/><path d="M237 876A168 168 0 0 1 72 845"/><path d="M237 876A143 143 0 0 1 95 858"/><path d="M237 876A170 170 0 0 1 87 796"/><path d="M237 876A67 67 0 0 1 270 818"/><path d="M237 876A100 100 0 0 1 295 794"/><path d="M237 876A141 141 0 0 1 343 783"/><path d="M237 876A241 241 0 0 1 204 637"/><path d="M237 876A210 210 0 0 1 273 669"/><path d="M237 876A386 386 0 0 1 483 578"/><path d="M237 876A188 188 0 0 1 87 763"/><path d="M237 876A195 195 0 0 1 147 703"/><path d="M237 876A128 128 0 0 1 300 764"/><path d="M334 964A131 131 0 0 1 237 876"/>
<path d="M300 948A50 50 0 0 1 278 903"/><path d="M377 886A100 100 0 0 1 278 903"/><path d="M334 964A83 83 0 0 1 278 903"/><path d="M278 903A59 59 0 0 1 320 861"/><path d="M278 903A110 110 0 0 1 295 794"/><path d="M278 903A136 136 0 0 1 343 783"/><path d="M278 903A125 125 0 0 1 177 829"/><path d="M278 903A214 214 0 0 1 72 845"/><path d="M278 903A85 85 0 0 1 270 818"/><path d="M278 903A276 276 0 0 1 204 637"/><path d="M278 903A384 384 0 0 1 483 578"/>
<path d="M334 964A38 38 0 0 1 300 948"/><path d="M300 948A99 99 0 0 1 377 886"/><path d="M300 948A325 325 0 0 1 204 637"/><path d="M300 948A154 154 0 0 1 295 794"/><path d="M300 948A171 171 0 0 1 177 829"/><path d="M300 948A89 89 0 0 1 320 861"/><path d="M300 948A250 250 0 0 1 72 845"/>
<path d="M334 964A89 89 0 0 1 377 886"/><path d="M334 964A104 104 0 0 1 320 861"/><path d="M334 964A181 181 0 0 1 343 783"/><path d="M334 964A352 352 0 0 1 204 637"/><path d="M334 964A207 207 0 0 1 177 829"/>
<path d="M377 886A62 62 0 0 1 320 861"/><path d="M377 886A108 108 0 0 1 343 783"/><path d="M377 886A123 123 0 0 1 295 794"/><path d="M377 886A127 127 0 0 1 270 818"/><path d="M377 886A326 326 0 0 1 483 578"/><path d="M377 886A303 303 0 0 1 204 637"/>
<path d="M320 861A72 72 0 0 1 295 794"/><path d="M320 861A81 81 0 0 1 343 783"/><path d="M320 861A99 99 0 0 1 300 764"/><path d="M320 861A66 66 0 0 1 270 818"/><path d="M320 861A147 147 0 0 1 177 829"/><path d="M320 861A164 164 0 0 1 315 697"/><path d="M320 861A249 249 0 0 1 72 845"/>
<path d="M343 783A49 49 0 0 1 295 794"/><path d="M343 783A47 47 0 0 1 300 764"/><path d="M343 783A38 38 0 0 1 353 746"/><path d="M343 783A90 90 0 0 1 315 697"/><path d="M343 783A248 248 0 0 1 483 578"/><path d="M343 783A81 81 0 0 1 270 818"/><path d="M343 783A134 134 0 0 1 273 669"/>
<path d="M270 818A35 35 0 0 1 295 794"/><path d="M295 794A30 30 0 0 1 300 764"/><path d="M295 794A123 123 0 0 1 177 829"/><path d="M295 794A181 181 0 0 1 204 637"/><path d="M295 794A99 99 0 0 1 315 697"/>
<path d="M270 818A94 94 0 0 1 177 829"/><path d="M270 818A62 62 0 0 1 300 764"/><path d="M270 818A200 200 0 0 1 72 845"/><path d="M270 818A191 191 0 0 1 87 763"/><path d="M270 818A321 321 0 0 1 483 578"/>
<path d="M177 829A106 106 0 0 1 72 845"/><path d="M177 829A87 87 0 0 1 95 858"/><path d="M177 829A96 96 0 0 1 87 796"/><path d="M177 829A112 112 0 0 1 87 763"/><path d="M177 829A130 130 0 0 1 147 703"/><path d="M177 829A99 99 0 0 1 125 745"/>
<path d="M95 858A26 26 0 0 1 72 845"/><path d="M72 845A51 51 0 0 1 87 796"/><path d="M72 845A48 48 0 0 1 50 802"/><path d="M72 845A83 83 0 0 1 87 763"/><path d="M72 845A161 161 0 0 1 147 703"/><path d="M72 845A113 113 0 0 1 125 745"/>
<path d="M87 796A38 38 0 0 1 50 802"/><path d="M87 796A33 33 0 0 1 87 763"/><path d="M87 796A111 111 0 0 1 147 703"/><path d="M87 796A64 64 0 0 1 125 745"/><path d="M87 796A197 197 0 0 1 204 637"/>
<path d="M87 763A42 42 0 0 1 125 745"/><path d="M87 763A85 85 0 0 1 147 703"/><path d="M87 763A124 124 0 0 1 189 692"/><path d="M87 763A172 172 0 0 1 204 637"/><path d="M87 763A208 208 0 0 1 273 669"/><path d="M50 802A54 54 0 0 1 87 763"/>
<path d="M147 703A43 43 0 0 1 189 692"/><path d="M147 703A87 87 0 0 1 204 637"/><path d="M147 703A130 130 0 0 1 273 669"/><path d="M125 745A47 47 0 0 1 147 703"/>
<path d="M273 669A76 76 0 0 1 204 637"/><path d="M273 669A229 229 0 0 1 483 578"/><path d="M273 669A50 50 0 0 1 315 697"/><path d="M189 692A87 87 0 0 1 273 669"/><path d="M353 746A111 111 0 0 1 273 669"/>
<path d="M204 637A285 285 0 0 1 483 578"/><path d="M353 746A212 212 0 0 1 483 578"/><path d="M315 697A206 206 0 0 1 483 578"/><path d="M300 764A261 261 0 0 1 483 578"/><path d="M483 578A150 150 0 0 1 507 430"/>
<path d="M315 697A62 62 0 0 1 353 746"/><path d="M315 697A126 126 0 0 1 204 637"/><path d="M315 697A69 69 0 0 1 300 764"/><path d="M189 692A57 57 0 0 1 204 637"/><path d="M125 745A83 83 0 0 1 189 692"/>
</g>
<g class="eo">
<path d="M1158 522A64 64 0 0 1 1099 547"/><path d="M866 511A292 292 0 0 1 1158 522"/><path d="M1099 547A223 223 0 0 1 881 594"/><path d="M1099 547A234 234 0 0 1 893 657"/><path d="M1099 547A126 126 0 0 1 1073 670"/><path d="M1158 522A257 257 0 0 1 1081 767"/><path d="M1099 547A393 393 0 0 1 748 723"/><path d="M1158 522A385 385 0 0 1 783 611"/><path d="M1099 547A322 322 0 0 1 783 611"/><path d="M1099 547A464 464 0 0 1 693 772"/><path d="M679 556A480 480 0 0 1 1158 522"/><path d="M1099 547A240 240 0 0 1 963 745"/><path d="M1158 522A215 215 0 0 1 955 593"/><path d="M1099 547A151 151 0 0 1 955 593"/><path d="M1158 522A339 339 0 0 1 877 711"/><path d="M1099 547A276 276 0 0 1 877 711"/><path d="M1158 522A245 245 0 0 1 998 708"/><path d="M1099 547A190 190 0 0 1 998 708"/><path d="M1158 522A210 210 0 0 1 1241 715"/>
</g>
</g>
<g id="nodes">
<g id="n-green-1" class="ng"><circle cx="686" cy="121" r="5"/></g>
<g id="n-green-2" class="ng"><circle cx="587" cy="224" r="5"/></g>
<g id="n-green-3" class="ng"><circle cx="651" cy="411" r="5"/></g>
<g id="n-purple-1" class="np"><circle cx="785" cy="245" r="8"/></g>
<g id="n-purple-2" class="np"><circle cx="998" cy="247" r="5"/></g>
<g id="n-purple-3" class="np"><circle cx="1082" cy="323" r="6"/></g>
<g id="n-yellow-1" class="ny"><circle cx="773" cy="418" r="5"/></g>
<g id="n-yellow-2" class="ny"><circle cx="866" cy="511" r="15"/></g>
<g id="n-yellow-3" class="ny"><circle cx="740" cy="558" r="19"/></g>
<g id="n-yellow-4" class="ny"><circle cx="881" cy="594" r="10"/></g>
<g id="n-yellow-5" class="ny"><circle cx="1073" cy="670" r="5"/></g>
<g id="n-cyan-1" class="nc"><circle cx="780" cy="818" r="7"/></g>
<g id="n-blue-1" class="nb"><circle cx="1459" cy="710" r="4"/></g>
<g id="n-blue-2" class="nb"><circle cx="1444" cy="732" r="4"/></g>
<g id="n-blue-3" class="nb"><circle cx="1319" cy="865" r="5"/></g>
<g id="n-blue-4" class="nb"><circle cx="1290" cy="894" r="5"/></g>
<g id="n-blue-5" class="nb"><circle cx="1203" cy="942" r="5"/></g>
<g id="n-red-1" class="nr"><circle cx="189" cy="692" r="5"/></g>
<g id="n-red-2" class="nr"><circle cx="125" cy="745" r="5"/></g>
<g id="n-red-3" class="nr"><circle cx="353" cy="746" r="6"/></g>
<g id="n-red-4" class="nr"><circle cx="300" cy="764" r="6"/></g>
<g id="n-red-5" class="nr"><circle cx="50" cy="802" r="5"/></g>
<g id="n-red-6" class="nr"><circle cx="95" cy="858" r="5"/></g>
<g id="n-red-7" class="nr"><circle cx="320" cy="861" r="6"/></g>
<g id="n-red-8" class="nr"><circle cx="334" cy="964" r="5"/></g>

<g id="n-cosmic-ionizing-radiation" class="ng"><circle cx="615" cy="34" r="5"/><text x="615" y="34" font-size="11.5" textLength="162" lengthAdjust="spacingAndGlyphs">cosmic ionizing radiation</text></g>
<g id="n-circadian-rhythm-disruption" class="ng"><circle cx="548" cy="73" r="6"/><text x="550" y="73" font-size="13.5" textLength="196" lengthAdjust="spacingAndGlyphs">circadian rhythm disruption</text></g>
<g id="n-circadian-rhythm-disruption-hyphen" class="ng"><circle cx="487" cy="135" r="7"/><text x="486" y="135" font-size="13.5" textLength="197" lengthAdjust="spacingAndGlyphs">circadian-rhythm disruption</text></g>
<g id="n-cohort-study" class="ng"><circle cx="765" cy="141" r="6"/><text x="766" y="141" font-size="12.5" textLength="89" lengthAdjust="spacingAndGlyphs">cohort study</text></g>
<g id="n-cohort-studies" class="ng"><circle cx="554" cy="169" r="6"/><text x="553" y="168" font-size="12.5" textLength="100" lengthAdjust="spacingAndGlyphs">cohort studies</text></g>
<g id="n-airline-pilots" class="ng"><circle cx="661" cy="188" r="7"/><text x="662" y="188" font-size="12.5" textLength="86" lengthAdjust="spacingAndGlyphs">airline pilots</text></g>
<g id="n-flight-crew" class="ng"><circle cx="508" cy="205" r="7"/><text x="506" y="205" font-size="12.5" textLength="73" lengthAdjust="spacingAndGlyphs">flight crew</text></g>
<g id="n-nightwork" class="ng"><circle cx="424" cy="234" r="5"/><text x="422" y="234" font-size="11.5" textLength="70" lengthAdjust="spacingAndGlyphs">nightwork</text></g>
<g id="n-cosmic-radiation-exposure" class="ng"><circle cx="714" cy="248" r="9"/><text x="716" y="247" font-size="13.5" textLength="204" lengthAdjust="spacingAndGlyphs">cosmic-radiation exposure</text></g>
<g id="n-leukemia" class="ng"><circle cx="882" cy="253" r="8"/><text x="880" y="253" font-size="12.5" textLength="64" lengthAdjust="spacingAndGlyphs">leukemia</text></g>
<g id="n-melanoma" class="ng"><circle cx="652" cy="281" r="4"/><text x="652" y="281" font-size="11.5" textLength="70" lengthAdjust="spacingAndGlyphs">melanoma</text></g>
<g id="n-cabin-attendants" class="ng"><circle cx="424" cy="304" r="9"/><text x="422" y="303" font-size="13.5" textLength="127" lengthAdjust="spacingAndGlyphs">cabin attendants</text></g>
<g id="n-radiation-exposure" class="ng"><circle cx="560" cy="320" r="4"/><text x="564" y="320" font-size="11.5" textLength="123" lengthAdjust="spacingAndGlyphs">radiation exposure</text></g>
<g id="n-malignant-melanoma" class="ng"><circle cx="728" cy="328" r="4"/><text x="729" y="328" font-size="11.5" textLength="137" lengthAdjust="spacingAndGlyphs">malignant melanoma</text></g>
<g id="n-metaanalysis" class="ng"><circle cx="475" cy="342" r="8"/><text x="474" y="342" font-size="12.5" textLength="90" lengthAdjust="spacingAndGlyphs">metaanalysis</text></g>
<g id="n-cabin-crew" class="ng"><circle cx="621" cy="353" r="8"/><text x="622" y="353" font-size="12.5" textLength="81" lengthAdjust="spacingAndGlyphs">cabin crew</text></g>
<g id="n-cohort" class="ng"><circle cx="835" cy="376" r="12"/><text x="834" y="376" font-size="14" textLength="53" lengthAdjust="spacingAndGlyphs">cohort</text></g>
<g id="n-exposure-assessment" class="ng"><circle cx="507" cy="430" r="6"/><text x="506" y="430" font-size="12.5" textLength="151" lengthAdjust="spacingAndGlyphs">exposure assessment</text></g>
<g id="n-risk" class="ng"><circle cx="648" cy="466" r="17"/><text x="648" y="466" font-size="17" textLength="35" lengthAdjust="spacingAndGlyphs">risk</text></g>

<g id="n-biological-dosimetry" class="np"><circle cx="958" cy="172" r="5"/><text x="958" y="172" font-size="11.5" textLength="131" lengthAdjust="spacingAndGlyphs">biological dosimetry</text></g>
<g id="n-commercial-aviation" class="np"><circle cx="1084" cy="250" r="5"/><text x="1083" y="250" font-size="11.5" textLength="129" lengthAdjust="spacingAndGlyphs">commercial aviation</text></g>
<g id="n-circadian-disruption" class="np"><circle cx="830" cy="283" r="8"/><text x="834" y="282" font-size="12.5" textLength="138" lengthAdjust="spacingAndGlyphs">circadian disruption</text></g>
<g id="n-ionizing-radiation" class="np"><circle cx="992" cy="323" r="9"/><text x="994" y="323" font-size="13.5" textLength="135" lengthAdjust="spacingAndGlyphs">ionizing-radiation</text></g>
<g id="n-experience" class="np"><circle cx="437" cy="398" r="4"/><text x="437" y="398" font-size="10.5" textLength="69" lengthAdjust="spacingAndGlyphs">experience</text></g>
<g id="n-neoplasms" class="np"><circle cx="717" cy="408" r="6"/><text x="718" y="407" font-size="11.5" textLength="76" lengthAdjust="spacingAndGlyphs">neoplasms</text></g>
<g id="n-female-flight-attendants" class="np"><circle cx="520" cy="490" r="12"/><text x="515" y="490" font-size="15" textLength="195" lengthAdjust="spacingAndGlyphs">female flight attendants</text></g>
<g id="n-air" class="np"><circle cx="563" cy="526" r="4"/><text x="563" y="524" font-size="10.5" textLength="18" lengthAdjust="spacingAndGlyphs">air</text></g>
<g id="n-pilots" class="np"><circle cx="803" cy="527" r="18"/><text x="803" y="527" font-size="19" textLength="53" lengthAdjust="spacingAndGlyphs">pilots</text></g>
<g id="n-aircraft" class="np"><circle cx="512" cy="627" r="9"/><text x="511" y="627" font-size="12.5" textLength="56" lengthAdjust="spacingAndGlyphs">aircraft</text></g>
<g id="n-occupational-exposure" class="np"><circle cx="657" cy="621" r="9"/><text x="660" y="621" font-size="13.5" textLength="176" lengthAdjust="spacingAndGlyphs">occupational exposure</text></g>

<g id="n-cancer" class="ny"><circle cx="869" cy="420" r="9"/><text x="868" y="421" font-size="14" textLength="55" lengthAdjust="spacingAndGlyphs">cancer</text></g>
<g id="n-cosmic-radiation" class="ny"><circle cx="929" cy="459" r="15"/><text x="928" y="459" font-size="17" textLength="154" lengthAdjust="spacingAndGlyphs">cosmic radiation</text></g>
<g id="n-airline-cabin-attendants" class="ny"><circle cx="893" cy="657" r="8"/><text x="888" y="657" font-size="13.5" textLength="194" lengthAdjust="spacingAndGlyphs">airline cabin attendants</text></g>
<g id="n-united-states" class="ny"><circle cx="748" cy="723" r="12"/><text x="746" y="722" font-size="15" textLength="108" lengthAdjust="spacingAndGlyphs">united-states</text></g>
<g id="n-nested-case-control" class="ny"><circle cx="963" cy="745" r="5"/><text x="962" y="744" font-size="11.5" textLength="127" lengthAdjust="spacingAndGlyphs">nested case-control</text></g>
<g id="n-air-crew" class="ny"><circle cx="1081" cy="767" r="5"/><text x="1082" y="767" font-size="11" textLength="50" lengthAdjust="spacingAndGlyphs">air crew</text></g>
<g id="n-epidemiology" class="ny"><circle cx="693" cy="772" r="11"/><text x="694" y="771" font-size="14" textLength="104" lengthAdjust="spacingAndGlyphs">epidemiology</text></g>
<g id="n-occupation" class="ny"><circle cx="847" cy="803" r="7"/><text x="847" y="803" font-size="12.5" textLength="78" lengthAdjust="spacingAndGlyphs">occupation</text></g>
<g id="n-atomic-bomb-survivors" class="ny"><circle cx="988" cy="805" r="5"/><text x="994" y="806" font-size="11.5" textLength="148" lengthAdjust="spacingAndGlyphs">atomic-bomb survivors</text></g>
<g id="n-long-haul-flights" class="ny"><circle cx="1046" cy="838" r="5"/><text x="1048" y="838" font-size="11.5" textLength="101" lengthAdjust="spacingAndGlyphs">long-haul flights</text></g>
<g id="n-review" class="ny"><circle cx="967" cy="879" r="4"/><text x="967" y="879" font-size="10.5" textLength="43" lengthAdjust="spacingAndGlyphs">review</text></g>

<g id="n-cancer-incidence" class="nc"><circle cx="976" cy="507" r="14"/><text x="979" y="505" font-size="16" textLength="146" lengthAdjust="spacingAndGlyphs">cancer incidence</text></g>
<g id="n-breast-cancer" class="nc"><circle cx="446" cy="517" r="6"/><text x="445" y="517" font-size="12" textLength="94" lengthAdjust="spacingAndGlyphs">breast cancer</text></g>
<g id="n-mortality" class="nc"><circle cx="679" cy="556" r="21"/><text x="678" y="555" font-size="19.5" textLength="92" lengthAdjust="spacingAndGlyphs">mortality</text></g>
<g id="n-women" class="nc"><circle cx="363" cy="578" r="5"/><text x="362" y="578" font-size="11" textLength="46" lengthAdjust="spacingAndGlyphs">women</text></g>
<g id="n-crew" class="nc"><circle cx="601" cy="592" r="10"/><text x="602" y="592" font-size="14" textLength="38" lengthAdjust="spacingAndGlyphs">crew</text></g>
<g id="n-melatonin" class="nc"><circle cx="557" cy="712" r="6"/><text x="557" y="712" font-size="12" textLength="72" lengthAdjust="spacingAndGlyphs">melatonin</text></g>
<g id="n-commercial-airline-pilots" class="nc"><circle cx="756" cy="870" r="5"/><text x="755" y="869" font-size="11.5" textLength="159" lengthAdjust="spacingAndGlyphs">commercial airline pilots</text></g>

<g id="n-cosmic-radiation-hyphen" class="nb"><circle cx="955" cy="593" r="17"/><text x="954" y="593" font-size="17" textLength="156" lengthAdjust="spacingAndGlyphs">cosmic-radiation</text></g>
<g id="n-aircrew" class="nb"><circle cx="783" cy="611" r="14"/><text x="784" y="610" font-size="16.5" textLength="68" lengthAdjust="spacingAndGlyphs">aircrew</text></g>
<g id="n-exposure" class="nb"><circle cx="877" cy="711" r="18"/><text x="876" y="710" font-size="19" textLength="95" lengthAdjust="spacingAndGlyphs">exposure</text></g>
<g id="n-radiation" class="nb"><circle cx="998" cy="708" r="9"/><text x="999" y="707" font-size="13.5" textLength="69" lengthAdjust="spacingAndGlyphs">radiation</text></g>
<g id="n-dosimetry" class="nb"><circle cx="1241" cy="715" r="7"/><text x="1240" y="715" font-size="12.5" textLength="71" lengthAdjust="spacingAndGlyphs">dosimetry</text></g>
<g id="n-exposure-occupational" class="nb"><circle cx="1479" cy="729" r="4"/><text x="1478" y="731" font-size="11.5" textLength="148" lengthAdjust="spacingAndGlyphs">exposure, occupational</text></g>
<g id="n-radiation-cosmic" class="nb"><circle cx="1464" cy="755" r="4"/><text x="1464" y="754" font-size="11.5" textLength="109" lengthAdjust="spacingAndGlyphs">radiation, cosmic</text></g>
<g id="n-altitudes" class="nb"><circle cx="1364" cy="798" r="5"/><text x="1363" y="797" font-size="11.5" textLength="56" lengthAdjust="spacingAndGlyphs">altitudes</text></g>
<g id="n-atmosphere" class="nb"><circle cx="1308" cy="822" r="5"/><text x="1307" y="822" font-size="11.5" textLength="75" lengthAdjust="spacingAndGlyphs">atmosphere</text></g>
<g id="n-dose-conversion-coefficients" class="nb"><circle cx="1332" cy="876" r="5"/><text x="1331" y="876" font-size="11.5" textLength="182" lengthAdjust="spacingAndGlyphs">dose conversion coefficients</text></g>
<g id="n-radiation-dose" class="nb"><circle cx="1267" cy="930" r="6"/><text x="1265" y="930" font-size="12" textLength="95" lengthAdjust="spacingAndGlyphs">radiation dose</text></g>
<g id="n-occupational" class="nb"><circle cx="1234" cy="961" r="5"/><text x="1234" y="961" font-size="11.5" textLength="83" lengthAdjust="spacingAndGlyphs">occupational</text></g>

<g id="n-health" class="nr"><circle cx="483" cy="578" r="9"/><text x="483" y="578" font-size="13.5" textLength="47" lengthAdjust="spacingAndGlyphs">health</text></g>
<g id="n-low-back-pain" class="nr"><circle cx="204" cy="637" r="4"/><text x="203" y="636" font-size="11" textLength="89" lengthAdjust="spacingAndGlyphs">low-back-pain</text></g>
<g id="n-population" class="nr"><circle cx="273" cy="669" r="5"/><text x="272" y="669" font-size="11" textLength="70" lengthAdjust="spacingAndGlyphs">population</text></g>
<g id="n-flight" class="nr"><circle cx="315" cy="697" r="5"/><text x="317" y="696" font-size="11" textLength="34" lengthAdjust="spacingAndGlyphs">flight</text></g>
<g id="n-prevention" class="nr"><circle cx="147" cy="703" r="6"/><text x="147" y="703" font-size="11.5" textLength="71" lengthAdjust="spacingAndGlyphs">prevention</text></g>
<g id="n-risk-factors-hyphen" class="nr"><circle cx="220" cy="734" r="11"/><text x="218" y="733" font-size="15" textLength="92" lengthAdjust="spacingAndGlyphs">risk-factors</text></g>
<g id="n-aviation" class="nr"><circle cx="415" cy="766" r="15"/><text x="415" y="765" font-size="16.5" textLength="71" lengthAdjust="spacingAndGlyphs">aviation</text></g>
<g id="n-aircrew-licensing" class="nr"><circle cx="87" cy="763" r="7"/><text x="85" y="762" font-size="12.5" textLength="115" lengthAdjust="spacingAndGlyphs">aircrew licensing</text></g>
<g id="n-fatigue" class="nr"><circle cx="343" cy="783" r="5"/><text x="343" y="782" font-size="11" textLength="43" lengthAdjust="spacingAndGlyphs">fatigue</text></g>
<g id="n-pain" class="nr"><circle cx="295" cy="794" r="4"/><text x="295" y="793" font-size="11" textLength="27" lengthAdjust="spacingAndGlyphs">pain</text></g>
<g id="n-coronary-heart-disease" class="nr"><circle cx="87" cy="796" r="4"/><text x="86" y="795" font-size="11.5" textLength="150" lengthAdjust="spacingAndGlyphs">coronary heart-disease</text></g>
<g id="n-risk-factors" class="nr"><circle cx="270" cy="818" r="5"/><text x="269" y="817" font-size="12" textLength="71" lengthAdjust="spacingAndGlyphs">risk factors</text></g>
<g id="n-stress" class="nr"><circle cx="177" cy="829" r="5"/><text x="178" y="829" font-size="11" textLength="37" lengthAdjust="spacingAndGlyphs">stress</text></g>
<g id="n-blood-pressure" class="nr"><circle cx="72" cy="845" r="5"/><text x="71" y="845" font-size="12" textLength="98" lengthAdjust="spacingAndGlyphs">blood-pressure</text></g>
<g id="n-prevalence" class="nr"><circle cx="237" cy="876" r="10"/><text x="237" y="874" font-size="13.5" textLength="84" lengthAdjust="spacingAndGlyphs">prevalence</text></g>
<g id="n-military-personnel" class="nr"><circle cx="377" cy="886" r="5"/><text x="378" y="885" font-size="12" textLength="118" lengthAdjust="spacingAndGlyphs">military personnel</text></g>
<g id="n-aviators" class="nr"><circle cx="278" cy="903" r="6"/><text x="276" y="902" font-size="12.5" textLength="57" lengthAdjust="spacingAndGlyphs">aviators</text></g>
<g id="n-neck-pain" class="nr"><circle cx="300" cy="948" r="5"/><text x="300" y="947" font-size="11.5" textLength="63" lengthAdjust="spacingAndGlyphs">neck pain</text></g>

<g id="n-altitude" class="no"><circle cx="1158" cy="522" r="5"/><text x="1160" y="522" font-size="11" textLength="49" lengthAdjust="spacingAndGlyphs">altitude</text></g>
<g id="n-rays" class="no"><circle cx="1099" cy="547" r="5"/><text x="1099" y="547" font-size="11" textLength="26" lengthAdjust="spacingAndGlyphs">rays</text></g>
</g>
</g>
</svg>
